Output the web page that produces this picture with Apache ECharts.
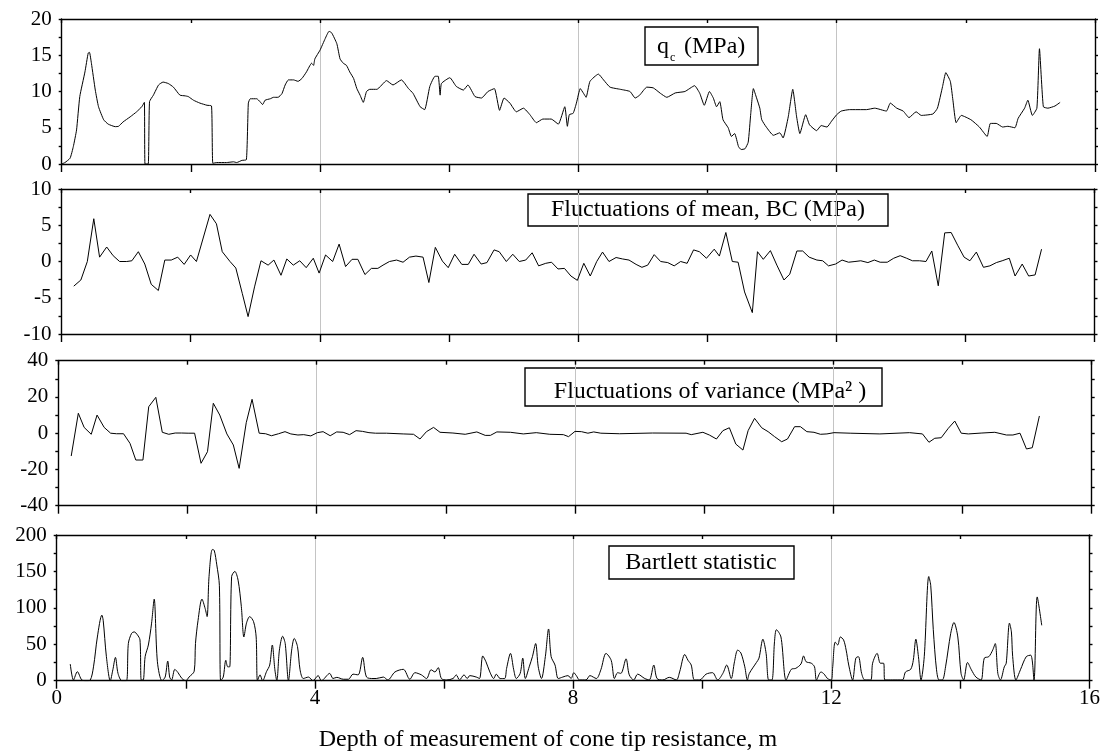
<!DOCTYPE html>
<html><head><meta charset="utf-8">
<script src="https://cdn.jsdelivr.net/npm/echarts@6/dist/echarts.min.js"></script>
<style>html,body{margin:0;padding:0;background:#fff}#c{width:1110px;height:755px}</style>
</head><body><div id="c"></div>
<script>
// ---- data ----
const depthTicks = [0, 4, 8, 12, 16];
const qcTicks = [0, 5, 10, 15, 20];
const meanTicks = [-10, -5, 0, 5, 10];
const varTicks = [-40, -20, 0, 20, 40];
const bartlettTicks = [0, 50, 100, 150, 200];

const qcDepth = [0,0.05,0.13,0.18,0.23,0.28,0.36,0.41,0.43,0.46,0.52,0.57,0.65,0.72,0.83,0.88,0.95,1.06,1.16,1.24,1.28,1.29,1.34,1.36,1.42,1.5,1.57,1.65,1.73,1.83,1.91,1.96,2.04,2.14,2.25,2.32,2.34,2.4,2.55,2.66,2.71,2.79,2.86,2.89,2.92,3.02,3.07,3.11,3.15,3.23,3.28,3.35,3.41,3.46,3.51,3.59,3.66,3.72,3.79,3.87,3.9,3.92,4.0,4.08,4.14,4.18,4.26,4.31,4.36,4.41,4.46,4.52,4.57,4.62,4.67,4.72,4.77,4.88,5.03,5.13,5.26,5.37,5.44,5.55,5.62,5.7,5.78,5.83,5.86,5.88,6.01,6.11,6.22,6.29,6.4,6.5,6.6,6.7,6.78,6.85,6.94,7.04,7.15,7.25,7.35,7.45,7.58,7.69,7.79,7.83,7.86,7.92,7.97,8.03,8.08,8.12,8.18,8.31,8.39,8.49,8.65,8.8,8.88,8.95,9.06,9.16,9.27,9.37,9.5,9.65,9.8,9.88,9.95,10.03,10.09,10.14,10.19,10.24,10.32,10.37,10.42,10.48,10.52,10.58,10.63,10.67,10.71,10.76,10.81,10.84,10.91,11.02,11.12,11.17,11.25,11.32,11.38,11.43,11.52,11.58,11.69,11.76,11.85,11.92,12.0,12.07,12.2,12.46,12.59,12.77,12.83,12.93,13.03,13.12,13.23,13.31,13.49,13.56,13.64,13.69,13.76,13.8,13.85,13.93,14.08,14.21,14.33,14.38,14.47,14.57,14.65,14.76,14.81,14.91,14.96,15.03,15.1,15.14,15.2,15.27,15.38,15.46];
const qcValue = [0,0.2,0.8,2.4,4.7,9.3,12.7,15.3,15.4,13.9,10.2,7.9,6.1,5.5,5.15,5.2,5.8,6.5,7.2,7.9,8.5,0,0,8.6,9.5,10.9,11.3,11.1,10.6,9.5,9.4,9.3,8.8,8.4,8.1,8.0,0.1,0.2,0.2,0.3,0.2,0.5,0.6,8.4,9.0,9.0,8.6,8.2,8.8,9.0,9.2,9.2,9.7,10.9,11.6,11.6,11.4,11.8,12.7,13.9,13.6,14.5,15.7,17.3,18.3,18.1,16.6,14.5,13.9,13.6,12.7,11.8,10.4,9.5,8.5,10.0,10.3,10.3,11.5,10.9,11.6,10.4,9.75,7.9,7.5,10.7,12.1,12.1,9.5,11.1,11.9,10.7,10.2,10.9,9.3,9.1,10.0,10.4,7.4,9.1,8.4,7.2,7.7,6.8,5.7,6.2,6.2,5.5,7.9,5.2,6.8,7.0,8.4,10.4,9.75,9.2,11.4,12.4,11.6,10.6,10.3,10.0,9.1,9.5,10.6,10.5,9.75,9.2,9.8,10.0,10.8,9.75,8.1,10.0,9.1,7.9,8.6,6.1,5.0,3.8,4.2,2.4,2.0,2.1,3.0,7.0,10.4,9.1,7.7,6.1,5.1,3.96,4.3,3.6,6.5,10.3,6.5,4.2,6.8,5.4,4.6,5.3,5.1,5.9,6.8,7.3,7.5,7.5,7.7,7.3,8.4,7.7,7.3,6.4,7.2,6.7,6.9,7.7,10.7,12.6,11.4,8.8,5.7,6.7,6.1,5.1,3.8,5.6,5.6,5.1,5.2,5.0,6.3,7.7,8.8,6.7,7.7,15.9,7.9,7.7,8.0,8.5];

const meanDepth = [0.19,0.3,0.4,0.5,0.59,0.7,0.8,0.9,1.01,1.09,1.19,1.29,1.39,1.5,1.6,1.7,1.8,1.9,2.0,2.09,2.3,2.4,2.49,2.61,2.7,2.8,2.89,2.99,3.09,3.2,3.29,3.4,3.49,3.59,3.69,3.79,3.9,3.99,4.09,4.2,4.3,4.4,4.5,4.59,4.7,4.8,4.9,4.98,5.08,5.19,5.29,5.39,5.49,5.6,5.69,5.79,5.9,5.99,6.09,6.2,6.3,6.39,6.5,6.59,6.7,6.78,6.89,6.99,7.09,7.19,7.29,7.39,7.5,7.59,7.69,7.79,7.89,7.99,8.09,8.19,8.29,8.38,8.48,8.59,8.69,8.79,8.9,8.99,9.08,9.18,9.28,9.39,9.49,9.59,9.69,9.79,9.88,9.99,10.11,10.19,10.29,10.39,10.48,10.58,10.7,10.78,10.87,10.98,11.08,11.19,11.28,11.39,11.48,11.58,11.7,11.79,11.88,11.99,12.09,12.19,12.29,12.38,12.49,12.59,12.68,12.79,12.89,12.99,13.09,13.18,13.29,13.39,13.48,13.58,13.68,13.78,13.88,13.98,14.07,14.17,14.28,14.38,14.48,14.57,14.68,14.77,14.88,14.98,15.08,15.18];
const meanValue = [-3.4,-2.55,0,5.9,0.6,2.0,0.8,0,0,0.1,1.35,-0.35,-3.15,-4.0,0.2,0.2,0.6,-0.4,0.9,0,6.5,5.2,1.35,0,-0.9,-4.4,-7.6,-3.5,0.1,-0.5,0.2,-1.9,0.35,-0.5,0.1,-0.85,0.45,-1.6,0.9,0,2.4,-0.7,0.3,0.3,-1.8,-0.95,-0.95,-0.5,0,0.2,-0.1,0.6,0.75,0.6,-2.9,1.95,0.05,-0.85,1.0,-0.4,-0.4,1.0,-0.35,-0.15,1.6,1.35,0,1.0,0,0.2,1.2,-0.6,-0.25,-0.1,-1.03,-0.95,-2.0,-2.6,-0.25,-2.0,0,1.3,0,0.55,0.35,0.2,-0.4,-0.8,-0.5,0.95,0,-0.15,-0.6,0,-0.25,1.6,1.35,0.45,1.7,0.75,4.0,0,-0.1,-4.2,-7.05,1.35,0.3,1.5,-0.5,-2.55,-1.75,1.45,1.45,0.6,0.2,0.1,-0.6,-0.35,0.2,-0.1,0,0.1,-0.15,0.2,-0.1,-0.1,0.45,0.8,0.45,0.1,0.1,0,1.45,-3.35,3.95,4.0,2.25,0.6,0.1,1.3,-0.8,-0.6,-0.15,0.1,0.45,-2.0,-0.35,-2.0,-1.85,1.7];

const varDepth = [0.2,0.31,0.4,0.51,0.6,0.71,0.81,0.9,1.01,1.11,1.2,1.31,1.4,1.51,1.61,1.71,1.81,1.91,2.01,2.11,2.21,2.31,2.4,2.5,2.61,2.71,2.8,2.91,3.0,3.11,3.21,3.3,3.41,3.51,3.6,3.71,3.8,3.91,4.01,4.1,4.21,4.31,4.41,4.51,4.61,4.71,4.81,4.91,5.08,5.34,5.5,5.6,5.7,5.81,5.91,6.11,6.3,6.48,6.61,6.69,6.79,7.0,7.2,7.4,7.61,7.82,7.9,8.0,8.1,8.2,8.29,8.4,8.69,9.2,9.72,9.8,9.98,10.08,10.19,10.29,10.39,10.49,10.6,10.68,10.78,10.89,10.99,11.09,11.2,11.29,11.4,11.49,11.59,11.7,11.8,11.9,12.01,12.26,12.72,13.18,13.38,13.48,13.57,13.67,13.78,13.88,13.98,14.09,14.3,14.5,14.68,14.78,14.89,14.99,15.08,15.19];
const varValue = [-12.6,11.0,3.2,-0.6,10.0,3.2,0,-0.3,-0.3,-5.6,-14.8,-14.8,14.6,19.8,0.5,-0.6,0.1,0.1,0,0,-16.6,-10.2,16.5,10.0,-0.4,-6.5,-19.4,5.8,18.7,0,-0.3,-1.4,-0.3,0.85,-0.4,-1.0,-0.8,-1.5,0.3,0.85,-1.4,0.7,0.5,-0.8,1.4,1.0,0.3,0,0,-0.4,-0.6,-3.2,0.85,3.2,0.5,0.1,-0.6,0.7,-1.2,-1.2,0.7,0.5,-0.4,0.3,-0.6,-0.8,-1.9,1.0,0.85,0,0.7,0,-0.3,0.1,0,-0.8,0.5,-1.0,-3.2,1.4,3.0,-6.0,-9.3,1.4,8.2,3.0,0.85,-1.9,-4.7,-3.2,3.6,3.6,0.85,0.5,-0.6,-0.4,0.3,0,-0.4,0.3,-0.4,-5.0,-2.8,-2.5,2.7,6.7,0,-0.4,0.1,0.5,-1.0,-1.0,0,-8.7,-8.0,9.5];

const bartDepth = [0.21,0.26,0.32,0.39,0.46,0.52,0.57,0.63,0.7,0.72,0.77,0.83,0.87,0.91,0.95,1.01,1.08,1.11,1.16,1.2,1.25,1.29,1.31,1.34,1.37,1.42,1.47,1.51,1.56,1.63,1.68,1.72,1.75,1.78,1.83,1.88,1.94,2.0,2.05,2.13,2.15,2.19,2.25,2.3,2.33,2.36,2.41,2.44,2.48,2.52,2.54,2.58,2.62,2.65,2.68,2.71,2.76,2.81,2.86,2.9,2.94,2.99,3.05,3.09,3.11,3.15,3.19,3.25,3.3,3.34,3.38,3.41,3.45,3.5,3.54,3.59,3.64,3.68,3.73,3.77,3.82,3.9,3.97,4.05,4.1,4.23,4.28,4.34,4.44,4.52,4.59,4.67,4.74,4.8,4.9,4.95,5.06,5.13,5.24,5.37,5.47,5.55,5.65,5.73,5.8,5.86,5.91,5.96,6.04,6.14,6.19,6.24,6.31,6.36,6.4,6.5,6.55,6.6,6.65,6.71,6.77,6.81,6.87,6.94,6.97,7.03,7.08,7.12,7.18,7.22,7.26,7.32,7.37,7.42,7.46,7.51,7.57,7.62,7.66,7.72,7.77,7.84,7.92,7.97,8.01,8.05,8.1,8.2,8.26,8.36,8.43,8.51,8.59,8.64,8.69,8.74,8.82,8.87,8.94,9.0,9.11,9.18,9.25,9.3,9.39,9.49,9.6,9.65,9.73,9.78,9.83,9.88,9.96,10.06,10.16,10.24,10.32,10.38,10.45,10.5,10.55,10.6,10.66,10.7,10.73,10.84,10.88,10.94,10.99,11.03,11.08,11.12,11.15,11.22,11.3,11.38,11.45,11.53,11.57,11.61,11.69,11.74,11.77,11.84,11.89,11.94,12.0,12.02,12.06,12.1,12.14,12.19,12.23,12.27,12.33,12.38,12.42,12.47,12.52,12.61,12.64,12.71,12.76,12.81,12.83,12.95,13.1,13.15,13.23,13.27,13.31,13.35,13.39,13.44,13.51,13.54,13.58,13.63,13.67,13.72,13.77,13.85,13.9,13.96,14.01,14.05,14.11,14.17,14.24,14.32,14.37,14.44,14.5,14.54,14.58,14.62,14.68,14.71,14.76,14.79,14.81,14.86,14.93,15.02,15.09,15.14,15.19,15.26];
const bartValue = [22.9,1,12.4,1,0,1,19,60,90,83,33,0,15,32,10,0,0,51,65,67,63,56,1,1,33,49,79,112,26,0,5,27,5,1,15.6,11,3,0,5,13,51,83,112,99,88,143,180,179,159,131,0,5,28,19,19,143,150,138,102,60,79,88,81,60,0,8,0,12.4,21.5,49,15,0,42,61,51,0,42,58,47,15,3,5,0,7,0,10,3,4.6,2,2,9,8,32,5,3,3,5,1,12,15.6,2,11,8,3,15,12,18,3,1,3,8,1,8,3,7,5,3,34,26,12,3,9,3,3,17,37.5,15,3,10,31,3,19,33,51,19,3,33,71,33,21.5,3,5,7,3,11,7,1,1,7,3,15,37.5,28,3,11,10,30,8,1,9,3,1,21.5,3,1,4.6,1,12,36,28,21.5,1,1,9,11,1,10,21.5,3,26,42,38,19,1,10,25,31,57,37.5,1,1,53.5,70,60,1,15.6,17,23,34,26,24,19,1,12,9,3,1,17,53,49,60,56,42,21.5,1,31,33,10,1,1,24,37.5,24,24,1,1,1,12,15.6,28,57,33,1,33,143,131,70,15,1,1,19,65,80,60,10,1,25,15,5,1,31,33,42,51,10,1,19,24,79,67,33,1,15,33,35,1,115,76];

const panelLabels = ['q', 'Fluctuations of mean, BC (MPa)', 'Fluctuations of variance (MPa\u00B2 )', 'Bartlett statistic'];
const xTitle = 'Depth of measurement of cone tip resistance, m';

// ---- layout / style ----
const FONT = '"Liberation Serif", "Times New Roman", serif';
const grids = [
  {left: 61.7, top: 19, width: 1033.3, height: 145},
  {left: 61.5, top: 189, width: 1033, height: 145},
  {left: 58.3, top: 360.7, width: 1033.4, height: 145},
  {left: 56.7, top: 535, width: 1032.8, height: 145.7}
];
const yTickSets = [qcTicks, meanTicks, varTicks, bartlettTicks];
const seriesData = [[qcDepth, qcValue], [meanDepth, meanValue], [varDepth, varValue], [bartDepth, bartValue]];
const zip = (a, b) => a.map((v, i) => [v, b[i]]);

const frame = {color: '#000', width: 1.4};
const xAxes = [], yAxes = [], series = [];
grids.forEach((g, i) => {
  g.outerBoundsMode = 'none';
  g.containLabel = false;
  const xMin = depthTicks[0], xMax = depthTicks[depthTicks.length - 1], xInt = depthTicks[1] - depthTicks[0];
  xAxes.push({
    gridIndex: i, type: 'value', position: 'bottom', min: xMin, max: xMax, interval: xInt,
    axisLine: {show: true, onZero: false, lineStyle: frame},
    axisTick: {show: true, inside: false, length: 8, lineStyle: frame},
    minorTick: {show: true, splitNumber: 2, length: 8, lineStyle: frame},
    axisLabel: {show: i === 3, color: '#000', fontFamily: FONT, fontSize: 21, margin: 7},
    splitLine: {show: true, lineStyle: {color: '#c4c4c4', width: 1}},
    minorSplitLine: {show: false}
  });
  xAxes.push({
    gridIndex: i, type: 'value', position: 'top', min: xMin, max: xMax, interval: xInt,
    axisLine: {show: true, onZero: false, lineStyle: frame},
    axisTick: {show: true, inside: true, length: 4, lineStyle: frame},
    minorTick: {show: true, splitNumber: 2, length: 4, lineStyle: frame},
    axisLabel: {show: false}, splitLine: {show: false}
  });
  const t = yTickSets[i];
  const yMin = t[0], yMax = t[t.length - 1], yInt = t[1] - t[0];
  const yCommon = {
    gridIndex: i, type: 'value', min: yMin, max: yMax, interval: yInt,
    axisLine: {show: true, onZero: false, lineStyle: frame},
    axisTick: {show: true, inside: false, length: 3, lineStyle: frame},
    minorTick: {show: true, splitNumber: 2, length: 3, lineStyle: frame},
    splitLine: {show: false}
  };
  yAxes.push(Object.assign({}, yCommon, {position: 'left',
    axisLabel: {show: true, color: '#000', fontFamily: FONT, fontSize: 21, margin: 10}}));
  yAxes.push(Object.assign({}, yCommon, {position: 'right', axisLabel: {show: false}}));
  series.push({
    type: 'line', xAxisIndex: i * 2, yAxisIndex: i * 2,
    data: zip(seriesData[i][0], seriesData[i][1]),
    showSymbol: false, symbol: 'none', smooth: i === 3 ? 0.3 : (i === 0 ? 0.15 : false),
    lineStyle: {color: '#000', width: 1}, silent: true, clip: true
  });
});

const boxStyle = {fill: '#fff', stroke: '#000', lineWidth: 1.4};
const txt = (x, y, text, size, align) => ({type: 'text', x: x, y: y,
  style: {text: text, fill: '#000', font: size + 'px ' + FONT, textAlign: align || 'left', textVerticalAlign: 'middle', verticalAlign: 'middle'}});

const graphic = [
  {type: 'rect', shape: {x: 645, y: 27, width: 113, height: 38}, style: boxStyle},
  txt(657, 46.5, panelLabels[0], 24),
  txt(670, 58, 'c', 12),
  txt(684, 46.5, '(MPa)', 24),
  {type: 'rect', shape: {x: 528, y: 194, width: 360, height: 32}, style: boxStyle},
  txt(708, 210, panelLabels[1], 24, 'center'),
  {type: 'rect', shape: {x: 525, y: 368, width: 357, height: 38}, style: boxStyle},
  txt(710, 392, panelLabels[2], 24, 'center'),
  {type: 'rect', shape: {x: 609, y: 546, width: 185, height: 33}, style: boxStyle},
  txt(701, 563, panelLabels[3], 24, 'center'),
  txt(548, 740, xTitle, 24, 'center')
];

const chart = echarts.init(document.getElementById('c'), null, {renderer: 'canvas'});
chart.setOption({
  animation: false,
  backgroundColor: '#fff',
  grid: grids,
  xAxis: xAxes,
  yAxis: yAxes,
  series: series,
  graphic: graphic
});
</script></body></html>
